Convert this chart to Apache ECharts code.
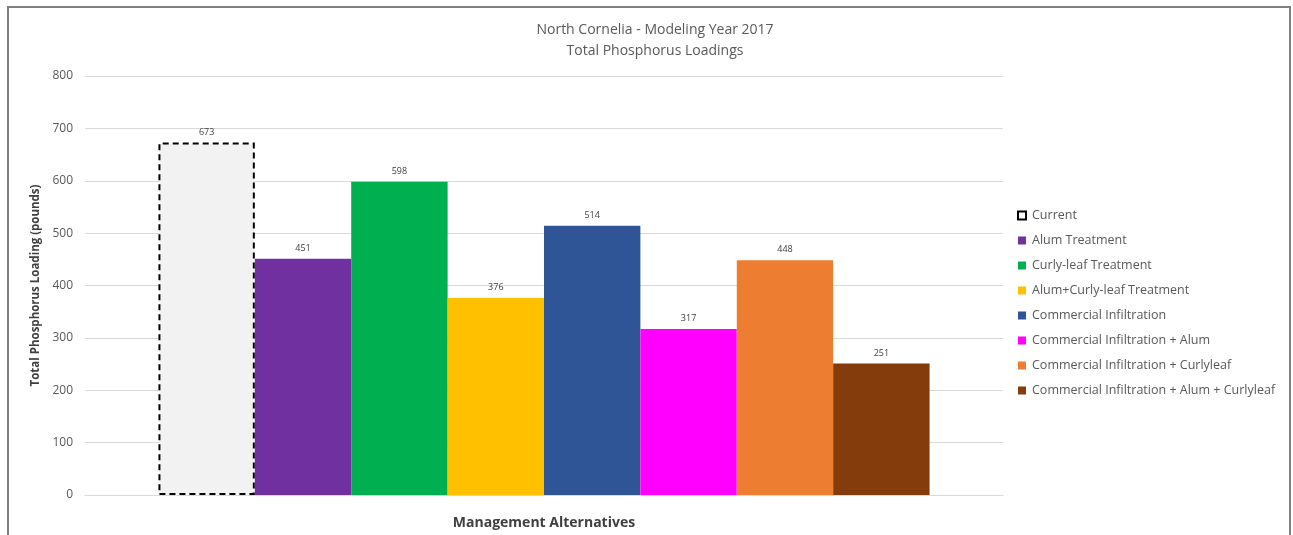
<!DOCTYPE html>
<html>
<head>
<meta charset="utf-8">
<script src="https://cdn.jsdelivr.net/npm/echarts@6/dist/echarts.min.js"></script>
<style>
  html, body { margin: 0; padding: 0; background: #fff; }
  #frame {
    position: absolute; left: 7px; top: 6px; width: 1284px; height: 560px;
    border: 2px solid #808080; box-sizing: border-box;
  }
  #chart_box { position: absolute; left: 0; top: 0; width: 1293px; height: 535px; }
</style>
</head>
<body>
<div id="frame"></div>
<div id="chart_box"></div>
<script>
const titleLines = ["North Cornelia - Modeling Year 2017", "Total Phosphorus Loadings"];
const categories = ["Management Alternatives"];
const seriesNames = [
  "Current",
  "Alum Treatment",
  "Curly-leaf Treatment",
  "Alum+Curly-leaf Treatment",
  "Commercial Infiltration",
  "Commercial Infiltration + Alum",
  "Commercial Infiltration + Curlyleaf",
  "Commercial Infiltration + Alum + Curlyleaf"
];
const seriesValues = [673, 451, 598, 376, 514, 317, 448, 251];
const seriesColors = ["#f2f2f2", "#7030a0", "#00b050", "#ffc000", "#2f5597", "#ff00ff", "#ed7d31", "#843c0c"];
const yTicks = [0, 800, 100];

const font = "'Open Sans', 'Noto Sans', sans-serif";

let myChart = echarts.init(document.getElementById("chart_box"));

const series = seriesNames.map((name, i) => {
  const s = {
    name: name,
    type: "bar",
    barGap: "0%",
    barCategoryGap: "16%",
    data: [seriesValues[i]],
    itemStyle: { color: seriesColors[i] },
    label: {
      show: true,
      position: "top",
      distance: 6,
      fontSize: 9,
      color: "#404040",
      fontFamily: font
    }
  };
  if (i === 0) {
    // dashed outline for the current condition
    s.itemStyle = {
      color: seriesColors[i],
      borderColor: "#000",
      borderWidth: 2,
      borderType: [6, 4]
    };
  }
  return s;
});

const option = {
  animation: false,
  title: {
    text: titleLines.join("\n"),
    left: 650,
    textAlign: "center",
    top: 15,
    textStyle: { fontSize: 14, fontWeight: "normal", color: "#595959", fontFamily: font, lineHeight: 21 }
  },
  legend: {
    orient: "vertical",
    left: 1012,
    top: 202,
    itemWidth: 8,
    itemHeight: 8,
    itemGap: 8,
    icon: "rect",
    textStyle: { fontSize: 12.5, color: "#595959", fontFamily: font, padding: [0, 0, 0, 1], lineHeight: 17 },
    data: seriesNames.map((n, i) => i === 0
      ? { name: n, itemStyle: { color: "#fff", borderColor: "#000", borderWidth: 2 } }
      : { name: n })
  },
  grid: {
    left: 85,
    right: 290,
    top: 76,
    bottom: 36,
    containLabel: false
  },
  xAxis: {
    type: "category",
    data: categories,
    name: categories[0],
    nameLocation: "middle",
    nameGap: 21,
    nameTextStyle: { fontSize: 14, fontWeight: "bold", color: "#404040", fontFamily: font },
    axisLabel: { show: false },
    axisTick: { show: false },
    axisLine: { lineStyle: { color: "#d9d9d9" } }
  },
  yAxis: {
    type: "value",
    min: yTicks[0],
    max: yTicks[1],
    interval: yTicks[2],
    name: "Total Phosphorus Loading (pounds)",
    nameLocation: "middle",
    nameGap: 41,
    nameTextStyle: { fontSize: 11.5, fontWeight: "bold", color: "#404040", fontFamily: font },
    axisLabel: { fontSize: 12, color: "#595959", fontFamily: font, margin: 12 },
    axisLine: { show: false },
    axisTick: { show: false },
    splitLine: { lineStyle: { color: "#d9d9d9" } }
  },
  series: series
};

myChart.setOption(option);
</script>
</body>
</html>
